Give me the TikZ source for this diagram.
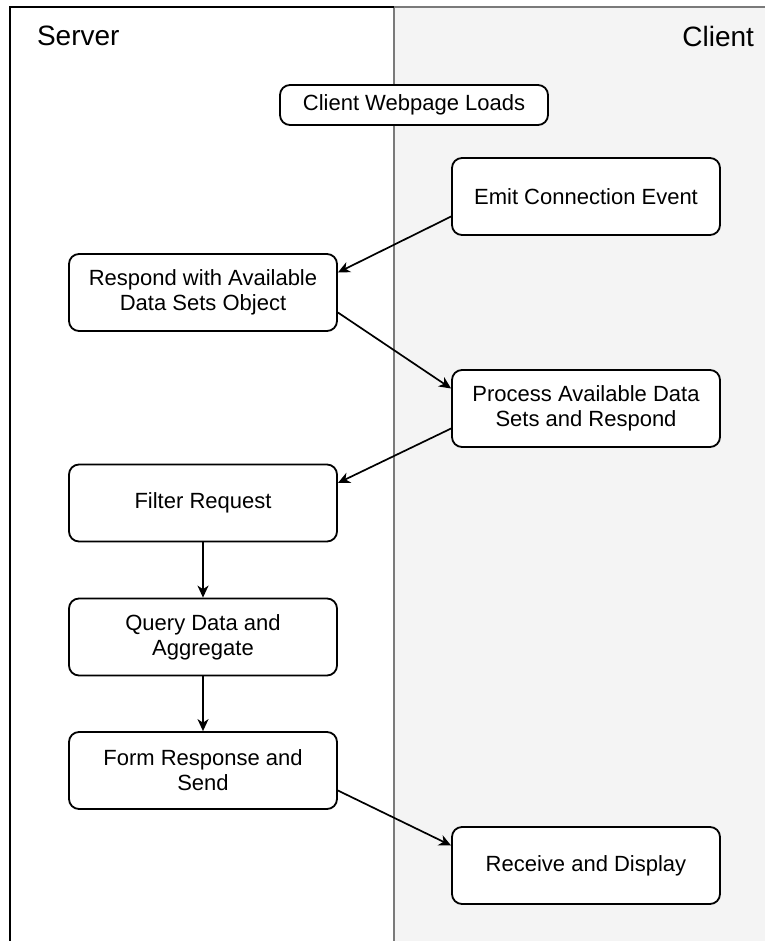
\documentclass[tikz,border=0pt]{standalone}
\usepackage{fontspec}
\setmainfont{Liberation Sans}
\usetikzlibrary{arrows.meta}
\definecolor{lanegray}{HTML}{7A7A7A}
\definecolor{clientfill}{HTML}{F4F4F4}

\begin{document}
\begin{tikzpicture}[x=0.5pt,y=-0.5pt,
    every node/.style={font=\fontsize{11}{12.5}\selectfont},
    box/.style={draw,line width=0.9pt,rounded corners=5pt,fill=white,
      minimum width=134pt,minimum height=38.5pt,align=center,inner sep=0pt},
    flow/.style={-{Stealth[length=6pt,width=5.5pt,inset=1.8pt]},line width=0.85pt},
    lanetitle/.style={font=\fontsize{14}{16}\selectfont}]
  \useasboundingbox (0,0) rectangle (765,941);

  % lanes
  \fill[clientfill] (394,7) rectangle (765,941);
  \draw[lanegray,line width=0.7pt] (394,941) -- (394,7) -- (765,7);
  \draw[line width=1pt] (10,941) -- (10,7) -- (394,7);

  \node[lanetitle,anchor=west] (server) at (30,36) {Server};
  \node[lanetitle,anchor=east] (client) at (761,36) {Client};

  \node[box,minimum height=20pt] (load) at (414,105) {Client Webpage Loads};

  \node[box] (emit)    at (586,196.5) {Emit Connection Event};
  \node[box] (respond) at (203,292.5) {Respond with Available\\Data Sets Object};
  \node[box] (process) at (586,408.5) {Process Available Data\\Sets and Respond};
  \node[box] (filter)  at (203,503)   {Filter Request};
  \node[box] (query)   at (203,637)   {Query Data and\\Aggregate};
  \node[box] (form)    at (203,770.5) {Form Response and\\Send};
  \node[box] (receive) at (586,865.5) {Receive and Display};

  \path [flow] ([yshift=-10pt]emit.west) edge ([yshift=10pt]respond.east);
  \path [flow] ([yshift=-10pt]respond.east) edge ([yshift=10pt]process.west);
  \path [flow] ([yshift=-10pt]process.west) edge ([yshift=10pt]filter.east);

  \path [flow] (filter) edge (query);
  \path [flow] (query) edge (form);

  \path [flow] ([yshift=-10pt]form.east) edge ([yshift=10pt]receive.west);
\end{tikzpicture}
\end{document}
